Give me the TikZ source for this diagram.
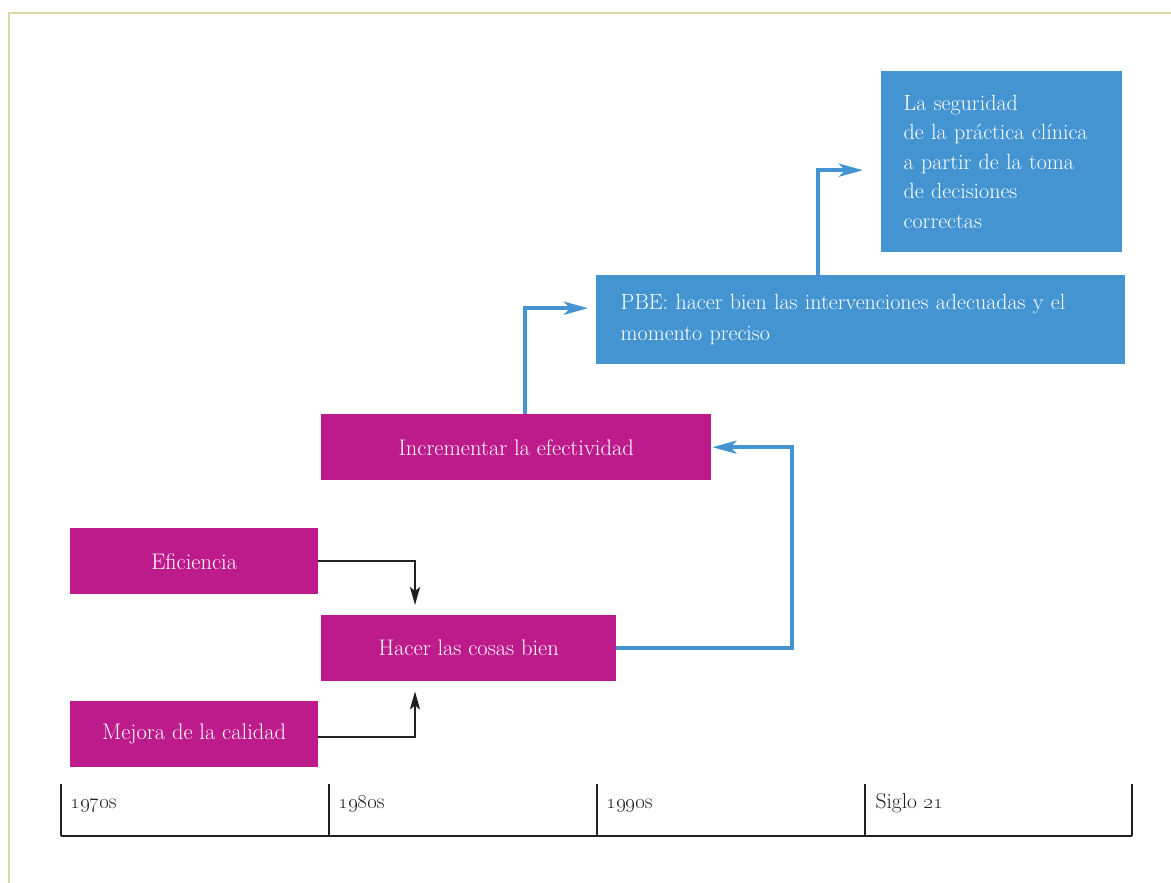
\documentclass[tikz,border=0pt]{standalone}
\usetikzlibrary{arrows.meta}
\definecolor{mag}{HTML}{BD1A8B}
\definecolor{blu}{HTML}{4394D1}
\definecolor{khaki}{HTML}{DDD7A0}
\definecolor{ink}{HTML}{231F20}
\tikzset{
  magbox/.style={fill=mag, text=white, inner sep=0pt, anchor=north west, font=\fontsize{22.5}{26}\selectfont},
  blubox/.style={fill=blu, text=white, anchor=north west, align=left, font=\fontsize{22}{29.5}\selectfont},
  blk/.style={draw=ink, line width=2.4pt, -{Stealth[length=18pt,width=10pt,inset=4pt]}},
  bluarr/.style={draw=blu, line width=4pt, -{Stealth[length=24pt,width=13pt,inset=6pt]}},
  axis/.style={draw=ink, line width=2.8pt},
  yearlab/.style={anchor=base west, text=ink, font=\fontsize{21.5}{24}\selectfont}
}
\begin{document}
\begin{tikzpicture}[x=1pt, y=-1pt]
\useasboundingbox (0,0) rectangle (1171,883);
\fill[white] (0,0) rectangle (1171,883);
\draw[khaki, line width=2.2pt] (9,883) -- (9,13) -- (1171,13);

% boxes
\node[blubox, minimum width=241pt, minimum height=181pt, text width=196pt, inner xsep=22pt, inner ysep=0pt] (seg) at (881,71)
  {La seguridad\\de la práctica clínica\\a partir de la toma\\de decisiones\\correctas};
\node[blubox, minimum width=529pt, minimum height=89pt, text width=480pt, inner xsep=24pt, inner ysep=0pt, font=\fontsize{22}{31}\selectfont] (pbe) at (596,275)
  {PBE: hacer bien las intervenciones adecuadas y el\\momento preciso};
\node[magbox, minimum width=390pt, minimum height=66pt] (incr) at (321,414) {Incrementar la efectividad};
\node[magbox, minimum width=248pt, minimum height=66pt] (efi) at (70,528) {Eficiencia};
\node[magbox, minimum width=295pt, minimum height=66pt] (hacer) at (321,615) {Hacer las cosas bien};
\node[magbox, minimum width=248pt, minimum height=66pt] (mej) at (70,701) {Mejora de la calidad};

% connectors
\draw[blk, shorten >=10pt] (efi.east) -| ([xshift=94pt]hacer.north west);
\draw[blk, shorten >=10pt] ([yshift=-3pt]mej.east) -| ([xshift=94pt]hacer.south west);
\draw[bluarr, shorten >=1pt] (hacer.east) -- ++(176,0) |- (incr.east);
\draw[bluarr, shorten >=8pt] ([xshift=204pt]incr.north west) |- ([yshift=11.5pt]pbe.west);
\draw[bluarr, shorten >=18pt] ([xshift=222pt]pbe.north west) |- ([yshift=-8.5pt]seg.west);

% timeline
\coordinate (t0) at (61,836);
\coordinate (t1) at (329,836);
\coordinate (t2) at (597,836);
\coordinate (t3) at (865,836);
\coordinate (t4) at (1132,836);
\draw[axis] (t0) -- (t4);
\foreach \t in {t0,t1,t2,t3,t4} \draw[axis] (\t) -- ++(0,-52);
\node[yearlab] (y1) at (67,808) {\oldstylenums{1970}s};
\node[yearlab] (y2) at (335,808) {\oldstylenums{1980}s};
\node[yearlab] (y3) at (603,808) {\oldstylenums{1990}s};
\node[yearlab] (y4) at (872,808) {Siglo \oldstylenums{21}};
\end{tikzpicture}
\end{document}
